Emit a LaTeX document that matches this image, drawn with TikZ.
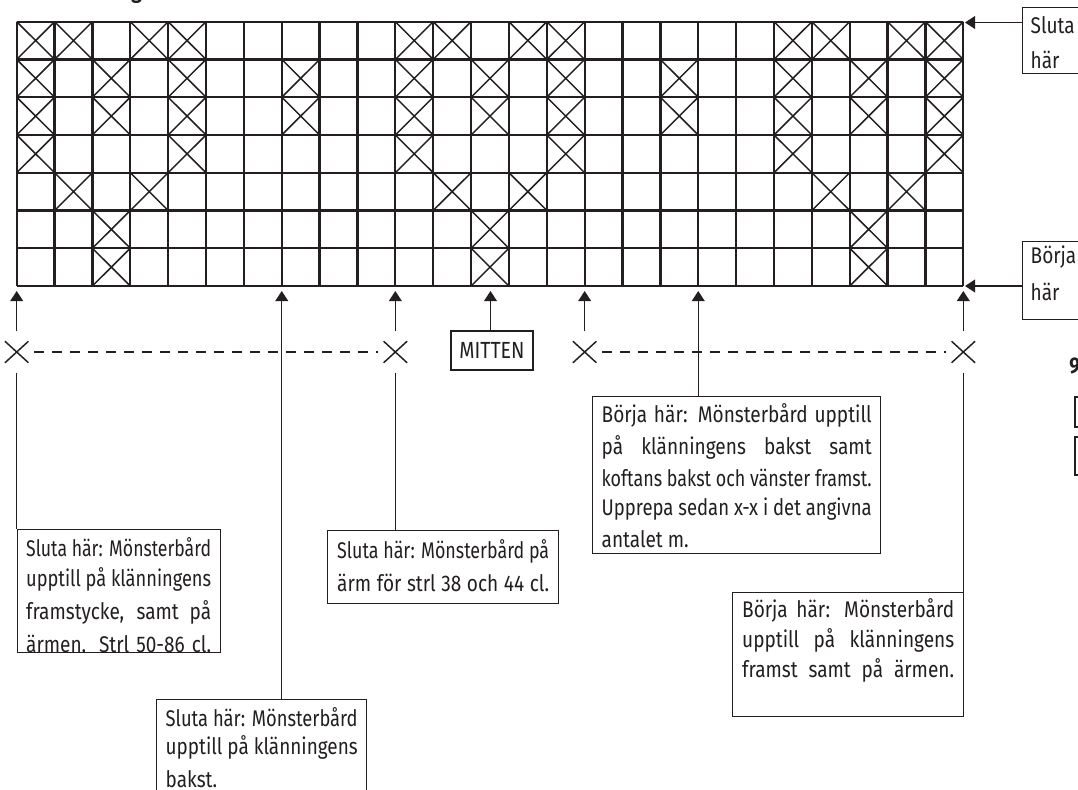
\documentclass[tikz,border=0pt]{standalone}
\usepackage{fontspec}
\usepackage{graphicx}
\usetikzlibrary{arrows.meta,shapes.misc}
\newfontfamily\boxfont[FakeStretch=0.84]{Fira Sans}
\definecolor{ink}{RGB}{35,31,32}
\newdimen\px \px=0.75pt
\newsavebox\lnbox
\newcommand\firstbl{27}
\newcommand\mystrut{\rule{0pt}{\firstbl\px}}
\newcommand\jl[1]{\par\noindent\mystrut\sbox\lnbox{#1}\ifdim\wd\lnbox>\linewidth\resizebox{\linewidth}{\height}{\usebox\lnbox}\else\makebox[\linewidth][s]{#1}\fi\par}
\newcommand\lastln[1]{\par\noindent\mystrut#1\par}
\newcommand\tbox[5]{\parbox[t][#1\px][t]{#2\px}{\renewcommand\firstbl{#3}\fontsize{17pt}{#4\px}\selectfont #5}}
\def\GX{16.7}
\def\GY{21.7}
\def\CW{37.864}
\def\CH{37.757}
\begin{document}
\begin{tikzpicture}[x=0.75pt,y=-0.75pt,
  gridline/.style={line width=1.7pt, draw=ink},
  cellx/.style={line width=1.1pt, draw=ink},
  conn/.style={line width=1.1pt, draw=ink},
  thinline/.style={line width=0.8pt, draw=ink},
  arr/.style={-{Triangle[length=7.5pt,width=9.5pt]}},
  xmark/.style={cross out, draw=ink, line width=1.1pt, minimum width=16.5pt, minimum height=15pt, inner sep=0pt},
  dashline/.style={draw=ink, line width=1pt, dash pattern=on 7.5pt off 6pt},
  tb/.style={draw=ink, line width=1pt, text=ink, inner ysep=0pt, anchor=north west, font=\boxfont},
  partial/.style={text=ink, inner sep=0pt, anchor=base west, font=\boxfont\bfseries\fontsize{17pt}{18pt}\selectfont},
]
\useasboundingbox (0,0) rectangle (1078,789);
\clip (0,0) rectangle (1078,789);
\fill[white] (0,0) rectangle (1078,789);

% cell crosses
\foreach \r/\cl in {0/{0,1,3,4,10,11,13,14,20,21,23,24},1/{0,2,4,7,10,12,14,17,20,22,24},2/{0,2,4,7,10,12,14,17,20,22,24},3/{0,4,10,14,20,24},4/{1,3,11,13,21,23},5/{2,12,22},6/{2,12,22}}
  \foreach \c in \cl
    \draw[cellx] ({\GX+\c*\CW},{\GY+\r*\CH}) -- ++(\CW,\CH) ({\GX+(\c+1)*\CW},{\GY+\r*\CH}) -- ++(-\CW,\CH);

% grid
\foreach \i in {0,...,25}
  \draw[gridline] ({\GX+\i*\CW},\GY) -- ({\GX+\i*\CW},{\GY+7*\CH});
\foreach \j in {0,...,7}
  \draw[gridline] (\GX,{\GY+\j*\CH}) -- ({\GX+25*\CW},{\GY+\j*\CH});

% arrow targets on the grid
\coordinate (gb0) at (16.7,291);
\coordinate (gb7) at (281.75,291);
\coordinate (gb10) at (395.34,291);
\coordinate (gbm) at (490.5,291);
\coordinate (gb15) at (584.66,291);
\coordinate (gb18) at (698.25,291);
\coordinate (gb25) at (963.3,291);
\coordinate (gtr) at (965,22.5);
\coordinate (gbr) at (965,286);

% repeat markers
\node[xmark] (c0) at (16.7,352) {};
\node[xmark] (c10) at (395.34,352) {};
\node[xmark] (c15) at (584.66,352) {};
\node[xmark] (c25) at (963.3,352) {};

\draw[dashline, shorten <=4.5pt, shorten >=4.5pt] (c0) -- (c10);
\draw[dashline, shorten <=4.5pt, shorten >=4.5pt] (c15) -- (c25);

% boxes
\node[tb, inner xsep=6.75pt] (b1) at (16.5,529) {\tbox{123}{185}{27}{30}{\jl{Sluta här: Mönsterbård}\jl{upptill på klänningens}\jl{framstycke, samt på}\jl{ärmen. Strl 50-86 cl.}}};
\node[tb, inner xsep=7.125pt] (b2) at (327,530) {\tbox{73}{212}{27.5}{30}{\jl{Sluta här: Mönsterbård på}\jl{ärm för strl 38 och 44 cl.}}};
\node[tb, inner xsep=6.75pt] (b3) at (592,396) {\tbox{157}{270}{26}{28.75}{\jl{Börja här: Mönsterbård upptill}\jl{på klänningens bakst samt}\jl{koftans bakst och vänster framst.}\jl{Upprepa sedan x-x i det angivna}\lastln{antalet m.}}};
\node[tb, inner xsep=7.125pt] (b4) at (732,592) {\tbox{124}{212}{25}{30}{\jl{Börja här: Mönsterbård}\jl{upptill på klänningens}\jl{framst samt på ärmen.}}};
\node[tb, inner xsep=6.75pt] (b5) at (156,699) {\tbox{130}{192}{27}{28}{\jl{Sluta här: Mönsterbård}\jl{upptill på klänningens}\lastln{bakst.}}};
\node[tb, inner xsep=6pt] (rs) at (1022,7) {\tbox{66}{74}{26}{35}{\lastln{Sluta}\lastln{här}}};
\node[tb, inner xsep=6pt] (rb) at (1022,241) {\tbox{78}{74}{22}{37}{\lastln{Börja}\lastln{här}}};
\node[draw=ink, line width=1pt, text=ink, font=\boxfont\fontsize{17.5pt}{18pt}\selectfont, minimum width=61.5pt, minimum height=29.25pt, inner sep=0pt] (mit) at (492,350.5) {MITTEN};

% connectors
\draw[conn, arr, shorten <=7.5pt] (c0) -- (gb0);
\draw[conn, arr, shorten <=7.5pt] (c10) -- (gb10);
\draw[conn, arr, shorten <=7.5pt] (c15) -- (gb15);
\draw[conn, arr, shorten <=7.5pt] (c25) -- (gb25);
\draw[conn, arr] (mit.north -| gbm) -- (gbm);
\draw[conn, arr] (b5.north -| gb7) -- (gb7);
\draw[conn, arr] (b3.north -| gb18) -- (gb18);
\draw[conn, arr] (rs.west |- gtr) -- (gtr);
\draw[conn, arr] (rb.west |- gbr) -- (gbr);
\draw[thinline, shorten <=7.5pt] (c0) -- (c0 |- b1.north);
\draw[thinline, shorten <=7.5pt] (c10) -- (c10 |- b2.north);
\draw[thinline, shorten <=7.5pt] (c25) -- (c25 |- b4.north);

% cut-off items at the edges
\node[partial] (hd) at (131,-2) {g};
\node[partial] (n9) at (1069,373) {9};
\draw[line width=1.8pt, draw=ink] (1075,397) rectangle (1100,427);
\draw[line width=1.8pt, draw=ink] (1075,437) rectangle (1100,475);
\end{tikzpicture}
\end{document}
